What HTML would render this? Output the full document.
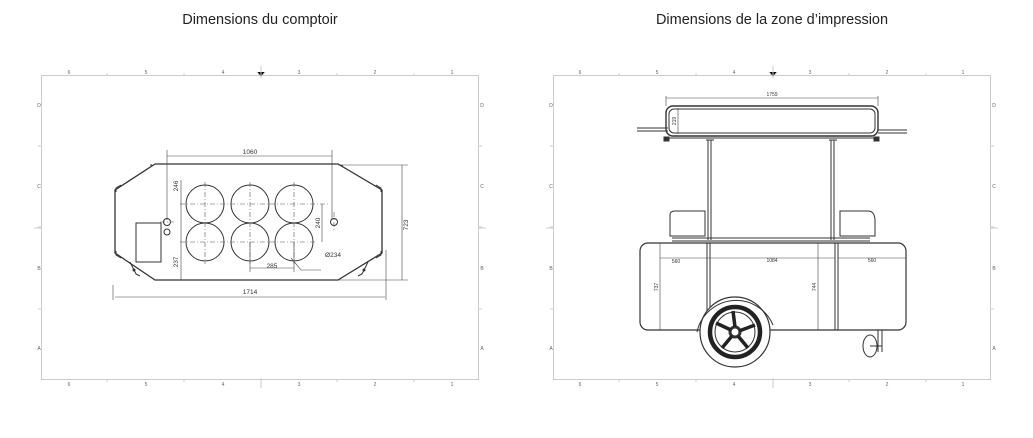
<!DOCTYPE html>
<html><head><meta charset="utf-8"><style>
html,body{margin:0;padding:0;background:#fff}
svg{display:block}
text{font-family:"Liberation Sans",sans-serif}
</style></head><body>
<svg width="1033" height="438" viewBox="0 0 1033 438" xmlns="http://www.w3.org/2000/svg">
<text x="260" y="24" font-size="14.5" text-anchor="middle" fill="#222">Dimensions du comptoir</text>
<text x="772" y="24" font-size="14.5" text-anchor="middle" fill="#222">Dimensions de la zone d’impression</text>

<g stroke="#ccc" fill="none" stroke-width="1">
<rect x="41.5" y="75.5" width="437" height="304"/>
<rect x="553.5" y="75.5" width="437" height="304"/>
</g>
<g font-size="5" fill="#666" text-anchor="middle">
<text x="69" y="74">6</text><text x="146" y="74">5</text><text x="223" y="74">4</text><text x="299" y="74">3</text><text x="375" y="74">2</text><text x="452" y="74">1</text>
<text x="69" y="386">6</text><text x="146" y="386">5</text><text x="223" y="386">4</text><text x="299" y="386">3</text><text x="375" y="386">2</text><text x="452" y="386">1</text>
<text x="39" y="107">D</text><text x="39" y="188">C</text><text x="39" y="270">B</text><text x="39" y="350">A</text>
<text x="482" y="107">D</text><text x="482" y="188">C</text><text x="482" y="270">B</text><text x="482" y="350">A</text>
<text x="580" y="74">6</text><text x="657" y="74">5</text><text x="734" y="74">4</text><text x="810" y="74">3</text><text x="887" y="74">2</text><text x="963" y="74">1</text>
<text x="580" y="386">6</text><text x="657" y="386">5</text><text x="734" y="386">4</text><text x="810" y="386">3</text><text x="887" y="386">2</text><text x="963" y="386">1</text>
<text x="551" y="107">D</text><text x="551" y="188">C</text><text x="551" y="270">B</text><text x="551" y="350">A</text>
<text x="994" y="107">D</text><text x="994" y="188">C</text><text x="994" y="270">B</text><text x="994" y="350">A</text>
</g>
<g stroke="#ccc" stroke-width="1">
<path d="M107 73v3M184 73v3M337 73v3M414 73v3M107 379v3M184 379v3M337 379v3M414 379v3M38 146h3M38 227h3M38 309h3M479 146h3M479 227h3M479 309h3"/>
<path d="M619 73v3M696 73v3M849 73v3M926 73v3M619 379v3M696 379v3M849 379v3M926 379v3M550 146h3M550 227h3M550 309h3M991 146h3M991 227h3M991 309h3"/>
<path d="M261 66v12M257 72l4 5 4-5M261 378v10M773 66v12M769 72l4 5 4-5M773 378v10M34 228h8M478 228h8M546 228h8M990 228h8"/>
</g>

<g stroke="#333" fill="none" stroke-width="1">
<path d="M155 164H338L382 190V253L338 280H155L115 253V190Z" stroke-width="1.3"/>
<path d="M152 165l-2 0M340 165l3 1M116 192v-4l5-3M381 192v-4l-5-3M116 251v4l5 3M381 251v4l-5 3"/>
<path d="M130 262l6 12 4 2M368 262l-6 12-4 2"/>
<circle cx="205" cy="204" r="19"/><circle cx="250" cy="204" r="19"/><circle cx="294" cy="204" r="19"/>
<circle cx="205" cy="242" r="19"/><circle cx="250" cy="242" r="19"/><circle cx="294" cy="242" r="19"/>
<rect x="136" y="223" width="25" height="39"/>
<circle cx="167" cy="222" r="3.5"/><circle cx="167" cy="232" r="3"/>
<circle cx="334" cy="222" r="3.5"/>
<circle cx="134" cy="270" r="1" fill="#333"/><circle cx="364" cy="270" r="1" fill="#333"/>
</g>
<g stroke="#555" fill="none" stroke-width="0.6" stroke-dasharray="5 2 1 2">
<path d="M180 204H328M180 242H316M205 182v82M250 182v82M294 182v82M160 222h14M334 212v20"/>
</g>
<g stroke="#444" fill="none" stroke-width="0.6">
<path d="M167 150v70M332 150v70M167 156H332M113 285v15M386 250v50M115 297H385M338 165h70M338 280h70M402 165V280M181 180v100M181 180v13M181 245v35M322 204v38M250 242v30M294 242v30M250 268H294M291 258l10 12h20"/>
</g>
<g font-size="6.5" fill="#333" text-anchor="middle">
<text x="250" y="154">1060</text>
<text x="250" y="294">1714</text>
<text x="272" y="268">285</text>
<text x="333" y="257">Ø234</text>
<text transform="translate(408 225) rotate(-90)">723</text>
<text transform="translate(178 186) rotate(-90)">246</text>
<text transform="translate(178 262) rotate(-90)">237</text>
<text transform="translate(320 223) rotate(-90)">240</text>
</g>

<g stroke="#333" fill="none" stroke-width="1">
<rect x="666" y="106" width="212" height="30" rx="7" stroke-width="1.4"/>
<rect x="669" y="109" width="206" height="24" rx="5"/>
<path d="M637 128H668M637 131H668M878 130H907M878 133H907M666 138H878"/>
<rect x="664" y="137" width="5" height="4" fill="#333"/><rect x="874" y="137" width="5" height="4" fill="#333"/>
<path d="M708 140V240M711 140V240M831 140V240M834 140V240M706 140h8M829 140h8"/>
<path d="M670 236V215q0-4 5-4H705v25Z"/>
<path d="M840 236V211H868q7 0 7 10V236Z"/>
<path d="M672 238H870M672 241H870"/>
<rect x="640" y="243" width="266" height="87" rx="8" stroke-width="1.2"/>
<path d="M707 243V330M710 243V330M835 243V330M838 243V330"/>
<path d="M648 330H892"/>
<circle cx="735" cy="332" r="35" stroke-width="1.2" fill="#fff"/>
<path d="M697 332A40 40 0 0 1 773 325"/>
<circle cx="735" cy="332" r="25" stroke="#222" stroke-width="4.5"/>
<circle cx="735" cy="332" r="20"/>
<circle cx="735" cy="332" r="5" stroke-width="3"/>
<path d="M735 327L733 311M739 331L755 325M738 336L748 348M732 336L722 348M731 330L716 323" stroke="#222" stroke-width="3.5"/>
<ellipse cx="870" cy="346" rx="7" ry="11"/>
<path d="M870 346h12M878 330v22M882 330v22"/>
</g>
<g stroke="#444" fill="none" stroke-width="0.6">
<path d="M666 96v10M878 96v10M666 98H878M678 108v26M660 243v87M660 258H708M708 258H835M838 258H906M818 243v87"/>
</g>
<g font-size="5" fill="#333" text-anchor="middle">
<text x="772" y="96">1759</text>
<text x="676" y="263">560</text>
<text x="772" y="262">1084</text>
<text x="872" y="262">560</text>
<text transform="translate(676 121) rotate(-90)">219</text>
<text transform="translate(658 287) rotate(-90)">737</text>
<text transform="translate(816 287) rotate(-90)">744</text>
</g>
</svg>
</body></html>
